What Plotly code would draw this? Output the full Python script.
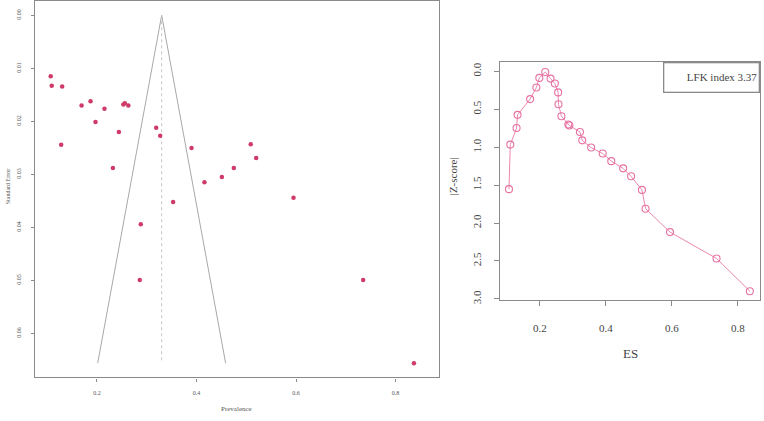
import plotly.graph_objects as go

# ---- data ----
prevalence = [0.107, 0.109, 0.128, 0.130, 0.169, 0.187, 0.197, 0.215, 0.232, 0.244,
              0.253, 0.256, 0.263, 0.286, 0.288, 0.319, 0.327, 0.353, 0.390, 0.416,
              0.451, 0.475, 0.509, 0.520, 0.595, 0.735, 0.837]
std_error = [0.0115, 0.0133, 0.0244, 0.0134, 0.0170, 0.0162, 0.0201, 0.0176, 0.0288, 0.0220,
             0.0168, 0.0166, 0.0170, 0.0499, 0.0394, 0.0212, 0.0227, 0.0352, 0.0250, 0.0315,
             0.0305, 0.0288, 0.0243, 0.0269, 0.0344, 0.0499, 0.0656]
doi_es = [0.106, 0.110, 0.129, 0.132, 0.170, 0.189, 0.198, 0.216, 0.232, 0.245,
          0.255, 0.256, 0.265, 0.286, 0.289, 0.321, 0.328, 0.355, 0.390, 0.416,
          0.452, 0.476, 0.509, 0.520, 0.594, 0.735, 0.836]
doi_z = [1.553, 0.966, 0.748, 0.574, 0.366, 0.213, 0.087, 0.009, 0.096, 0.161,
         0.278, 0.435, 0.592, 0.701, 0.714, 0.800, 0.910, 1.005, 1.084, 1.184,
         1.279, 1.384, 1.563, 1.811, 2.119, 2.467, 2.898]
pooled_estimate = 0.33
lfk_label = "LFK index 3.37"

funnel_ticks_y = [0.00, 0.01, 0.02, 0.03, 0.04, 0.05, 0.06]
funnel_ticks_x = [0.2, 0.4, 0.6, 0.8]
doi_ticks_y = [0.0, 0.5, 1.0, 1.5, 2.0, 2.5, 3.0]
doi_ticks_x = [0.2, 0.4, 0.6, 0.8]

W, H = 764, 421
SERIF = "Liberation Serif, Times New Roman, serif"

def px_x(p):
    return p / W

def px_y(p):
    return 1 - p / H

se_max = max(std_error)

fig = go.Figure()

# funnel outline
fig.add_trace(go.Scatter(
    x=[pooled_estimate - 1.96 * se_max, pooled_estimate, pooled_estimate + 1.96 * se_max],
    y=[se_max, 0, se_max], mode="lines",
    line=dict(color="#a8a8a8", width=1), xaxis="x", yaxis="y", hoverinfo="skip"))
fig.add_trace(go.Scatter(
    x=[pooled_estimate, pooled_estimate], y=[0, se_max], mode="lines",
    line=dict(color="#c4c4c4", width=1, dash="dot"), xaxis="x", yaxis="y", hoverinfo="skip"))
# studies
fig.add_trace(go.Scatter(
    x=prevalence, y=std_error, mode="markers",
    marker=dict(color="#cf3a68", size=4.5, line=dict(width=0)),
    xaxis="x", yaxis="y"))

# Doi plot
fig.add_trace(go.Scatter(
    x=doi_es, y=doi_z, mode="lines+markers",
    line=dict(color="#ea86ae", width=1),
    marker=dict(symbol="circle-open", size=7, color="#e672a2", line=dict(width=1.1)),
    xaxis="x2", yaxis="y2"))

axis_line = dict(showline=True, mirror=True, linecolor="#8a8a8a", linewidth=1.3,
                 showgrid=False, zeroline=False, ticks="outside", tickcolor="#8a8a8a")

fig.update_layout(
    width=W, height=H, margin=dict(l=0, r=0, t=0, b=0),
    paper_bgcolor="white", plot_bgcolor="white", showlegend=False,
    font=dict(family=SERIF, color="#444444"),
    xaxis=dict(domain=[px_x(35), px_x(439)], range=[0.0754, 0.8874],
               tickvals=funnel_ticks_x, ticktext=[f"{v:.1f}" for v in funnel_ticks_x],
               ticklen=3, tickfont=dict(size=6, color="#555555"), ticklabelstandoff=6,
               anchor="y", **axis_line),
    yaxis=dict(domain=[px_y(381), px_y(1.5)], range=[0.06828, -0.00261],
               tickvals=funnel_ticks_y, ticktext=[f"{v:.2f}" for v in funnel_ticks_y],
               ticklen=3, tickangle=-90, tickfont=dict(size=6, color="#555555"),
               ticklabelstandoff=7, anchor="x", **axis_line),
    xaxis2=dict(domain=[px_x(500), px_x(760)], range=[0.0788, 0.8667],
                tickvals=doi_ticks_x, ticktext=[f"{v:.1f}" for v in doi_ticks_x],
                ticklen=5, tickfont=dict(size=11, color="#444444"), ticklabelstandoff=13,
                anchor="y2", **axis_line),
    yaxis2=dict(domain=[px_y(303), px_y(63)], range=[3.0157, -0.1175],
                tickvals=doi_ticks_y, ticktext=[f"{v:.1f}" for v in doi_ticks_y],
                ticklen=5, tickangle=-90, tickfont=dict(size=11, color="#444444"),
                ticklabelstandoff=8, anchor="x2", **axis_line),
)

def label(text, xp, yp, size, color, angle=0):
    fig.add_annotation(text=text, xref="paper", yref="paper", x=px_x(xp), y=px_y(yp),
                       xanchor="center", yanchor="middle", showarrow=False, textangle=angle,
                       font=dict(size=size, color=color, family=SERIF))

label("Prevalence", 237, 413, 7, "#555555")
label("Standard Error", 8, 188, 6, "#555555", -90)
label("ES", 630, 357, 13, "#444444")
label("|Z-score|", 453, 178, 11, "#444444", -90)

fig.add_annotation(text=lfk_label, xref="x2 domain", yref="y2 domain", x=1, y=1,
                   xanchor="right", yanchor="top", showarrow=False, align="right",
                   width=92, height=26, borderpad=1, bordercolor="#8a8a8a", borderwidth=1.3,
                   bgcolor="white", font=dict(size=11, color="#444444", family=SERIF))

fig.write_html("out.html", config={"displayModeBar": False},
               post_script="document.body.style.margin='0';document.body.style.overflow='hidden';")
